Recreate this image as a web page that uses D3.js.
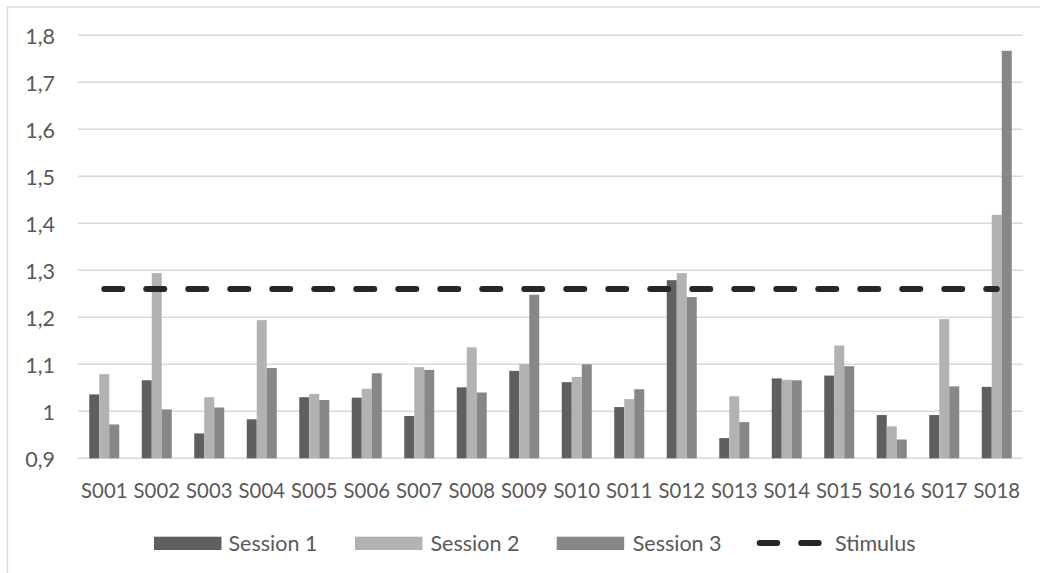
<!DOCTYPE html>
<html>
<head>
<meta charset="utf-8">
<script src="https://cdn.jsdelivr.net/npm/d3@7"></script>
<style>
  html, body { margin: 0; padding: 0; background: #fff; }
  svg { display: block; }
  text { font-family: Lato, "Open Sans", sans-serif; fill: #595959; }
</style>
</head>
<body>
<svg id="chart" width="1040" height="573"></svg>
<script>
// Subjects on the category axis
const subjects = ["S001","S002","S003","S004","S005","S006","S007","S008","S009",
                  "S010","S011","S012","S013","S014","S015","S016","S017","S018"];

// Measured values per session
const session1 = [1.036,1.066,0.953,0.983,1.030,1.029,0.990,1.051,1.086,
                  1.062,1.009,1.279,0.943,1.070,1.076,0.992,0.992,1.052];
const session2 = [1.079,1.294,1.030,1.194,1.037,1.048,1.094,1.136,1.101,
                  1.073,1.026,1.294,1.032,1.067,1.140,0.968,1.196,1.418];
const session3 = [0.972,1.004,1.008,1.092,1.024,1.081,1.088,1.040,1.248,
                  1.100,1.047,1.243,0.977,1.066,1.096,0.940,1.053,1.767];

// Constant stimulus reference level
const stimulus = 1.26;

const seriesNames = ["Session 1", "Session 2", "Session 3"];
const seriesValues = [session1, session2, session3];
const seriesColors = ["#5f5f5f", "#b2b2b2", "#878787"];

// Value axis ticks
const yTicks = [0.9, 1.0, 1.1, 1.2, 1.3, 1.4, 1.5, 1.6, 1.7, 1.8];

const svg = d3.select("#chart");
const plot = { left: 78, right: 1023, top: 35.3, bottom: 458.3 };

// Outer chart frame
svg.append("rect")
  .attr("x", 7.5).attr("y", 7)
  .attr("width", 1100).attr("height", 700)
  .attr("fill", "none").attr("stroke", "#d9d9d9").attr("stroke-width", 1.3);

const x0 = d3.scaleBand()
  .domain(subjects)
  .range([plot.left, plot.right])
  .paddingInner(0.4286)
  .paddingOuter(0.2143);

const x1 = d3.scaleBand()
  .domain(d3.range(seriesNames.length))
  .range([0, x0.bandwidth()]);

const y = d3.scaleLinear()
  .domain([0.9, 1.8])
  .range([plot.bottom, plot.top]);

const fmt = v => (v === 1 ? "1" : d3.format(".1f")(v).replace(".", ","));

// Horizontal gridlines
svg.append("g")
  .selectAll("line")
  .data(yTicks)
  .join("line")
  .attr("x1", plot.left).attr("x2", plot.right)
  .attr("y1", d => y(d)).attr("y2", d => y(d))
  .attr("stroke", "#d9d9d9").attr("stroke-width", 1.4);

// Value axis labels
const yAxis = svg.append("g")
  .attr("transform", `translate(${plot.left},0)`)
  .call(d3.axisLeft(y).tickValues(yTicks).tickFormat(fmt).tickSize(0).tickPadding(23));
yAxis.select(".domain").remove();
yAxis.selectAll("text")
  .attr("dy", "0.36em")
  .style("font-size", "21.5px")
  .style("font-family", "Lato, sans-serif")
  .attr("fill", "#595959");

// Grouped bars
const groups = svg.append("g")
  .selectAll("g")
  .data(subjects)
  .join("g")
  .attr("transform", d => `translate(${x0(d)},0)`);

groups.selectAll("rect")
  .data((d, i) => seriesValues.map((vals, s) => ({ s, v: vals[i] })))
  .join("rect")
  .attr("x", d => x1(d.s))
  .attr("width", x1.bandwidth())
  .attr("y", d => y(d.v))
  .attr("height", d => y(0.9) - y(d.v))
  .attr("fill", d => seriesColors[d.s]);

// Category axis labels
const xAxis = svg.append("g")
  .attr("transform", `translate(0,${plot.bottom})`)
  .call(d3.axisBottom(x0).tickSize(0).tickPadding(24));
xAxis.select(".domain").remove();
xAxis.selectAll("text")
  .attr("dy", "0")
  .style("font-size", "20.3px")
  .style("font-family", "Lato, sans-serif")
  .attr("fill", "#595959")
  .attr("y", 498 - plot.bottom);

// Stimulus dashed line across category centres
const centre = d => x0(d) + x0.bandwidth() / 2;
svg.append("path")
  .datum(subjects)
  .attr("d", d3.line().x(centre).y(() => y(stimulus)))
  .attr("fill", "none")
  .attr("stroke", "#262626")
  .attr("stroke-width", 6)
  .attr("stroke-linecap", "round")
  .attr("stroke-dasharray", "18 24");

// Legend
const legend = svg.append("g");
const legendItems = [
  { name: seriesNames[0], color: seriesColors[0], x: 154, tx: 228.5, type: "bar" },
  { name: seriesNames[1], color: seriesColors[1], x: 355, tx: 430.5, type: "bar" },
  { name: seriesNames[2], color: seriesColors[2], x: 556.7, tx: 632.7, type: "bar" },
  { name: "Stimulus", color: "#262626", x: 759.7, tx: 835, type: "line" }
];
legendItems.forEach(it => {
  if (it.type === "bar") {
    legend.append("rect")
      .attr("x", it.x).attr("y", 536.7)
      .attr("width", 67.5).attr("height", 13.3)
      .attr("fill", it.color);
  } else {
    legend.append("line")
      .attr("x1", it.x).attr("x2", it.x + 59)
      .attr("y1", 543).attr("y2", 543)
      .attr("stroke", it.color).attr("stroke-width", 6)
      .attr("stroke-linecap", "round")
      .attr("stroke-dasharray", "17.5 24");
  }
  legend.append("text")
    .attr("x", it.tx).attr("y", 550.5)
    .style("font-size", "21.5px")
    .text(it.name);
});
</script>
</body>
</html>
